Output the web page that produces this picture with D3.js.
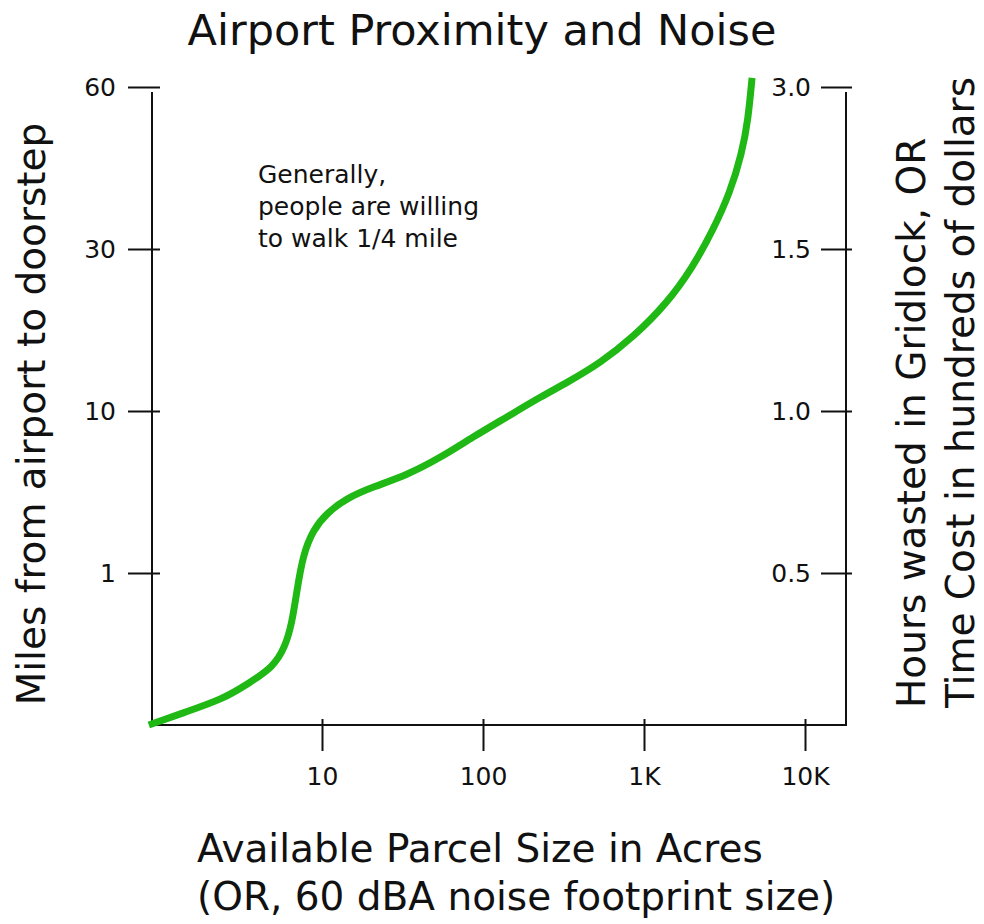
<html>
<head>
    <style>
        body { margin: 0; background: #fff; }
        text { font-family: "DejaVu Sans", sans-serif; fill: #111; }
        .axis line, .axis-line { stroke: #111; stroke-width: 2px; }
    </style>
</head>
<body>
    <script src="https://d3js.org/d3.v7.min.js"></script>
    <script>
        var width = 984,
            height = 924;

        // curve: parcel size in acres vs miles from airport
        var acres = [0.84, 1.37, 2.43, 3.57, 4.96, 5.89, 6.51, 7.0, 7.62, 8.8, 10.7, 14.3, 20.7, 33.7, 54,
            86.7, 141, 226, 332, 533, 855, 1390, 2015, 2683, 3420, 4060, 4430, 4690];
        var miles = [0, 0.08, 0.17, 0.28, 0.38, 0.51, 0.67, 0.89, 2.0, 3.39, 4.33, 5.17, 5.78, 6.44, 7.39,
            8.56, 9.67, 11.7, 13.5, 15.9, 19.1, 23.3, 27.8, 33.5, 40.4, 47.8, 53.9, 61.7];

        var xTicks = [10, 100, 1000, 10000];
        var xTickLabels = ["10", "100", "1K", "10K"];
        var leftTicks = [1, 10, 30, 60];
        var rightTicks = [0.5, 1.0, 1.5, 3.0];

        var svg = d3.select("body")
            .append("svg")
            .attr("width", width)
            .attr("height", height);

        var x = d3.scaleLog().domain([1, 10000]).range([161, 805]);
        // the axes are evenly spaced per labelled value, not linear
        var yLeft = d3.scaleLinear().domain([0, 1, 10, 30, 60]).range([725, 573, 411, 249, 87]);
        var yRight = d3.scaleLinear().domain([0, 0.5, 1.0, 1.5, 3.0]).range([725, 573, 411, 249, 87]);

        // axis lines
        svg.append("line").attr("class", "axis-line")
            .attr("x1", 152).attr("x2", 152).attr("y1", 92).attr("y2", 726);
        svg.append("line").attr("class", "axis-line")
            .attr("x1", 846).attr("x2", 846).attr("y1", 92).attr("y2", 726);
        svg.append("line").attr("class", "axis-line")
            .attr("x1", 151).attr("x2", 847).attr("y1", 725).attr("y2", 725);

        var xAxis = svg.append("g")
            .attr("class", "axis")
            .attr("transform", "translate(0,725)")
            .call(d3.axisBottom(x).tickValues(xTicks).tickSize(26).tickPadding(16)
                .tickFormat(function (d, i) { return xTickLabels[i]; }));
        xAxis.select(".domain").remove();
        xAxis.selectAll(".tick line").attr("y1", -6);
        xAxis.selectAll(".tick text").style("font-size", "25px").attr("font-family", null);

        var leftAxis = svg.append("g")
            .attr("class", "axis")
            .attr("transform", "translate(152,0)")
            .call(d3.axisLeft(yLeft).tickValues(leftTicks).tickSize(24).tickPadding(12)
                .tickFormat(d3.format("d")));
        leftAxis.select(".domain").remove();
        leftAxis.selectAll(".tick line").attr("x1", 8);
        leftAxis.selectAll(".tick text").style("font-size", "25px").attr("font-family", null);

        var rightAxis = svg.append("g")
            .attr("class", "axis")
            .attr("transform", "translate(846,0)")
            .call(d3.axisLeft(yRight).tickValues(rightTicks).tickSize(25).tickPadding(10)
                .tickFormat(d3.format(".1f")));
        rightAxis.select(".domain").remove();
        rightAxis.selectAll(".tick line").attr("x1", 6);
        rightAxis.selectAll(".tick text").style("font-size", "25px").attr("font-family", null);

        // the green curve
        var points = acres.map(function (a, i) { return [a, miles[i]]; });
        var line = d3.line()
            .x(function (d) { return x(d[0]); })
            .y(function (d) { return yLeft(d[1]); })
            .curve(d3.curveBasis);

        svg.append("path")
            .datum(points)
            .attr("d", line)
            .attr("fill", "none")
            .attr("stroke", "#1fb814")
            .attr("stroke-width", 7);

        // title
        svg.append("text")
            .attr("x", 482)
            .attr("y", 45)
            .attr("text-anchor", "middle")
            .style("font-size", "43px")
            .text("Airport Proximity and Noise");

        // note
        var note = svg.append("text")
            .attr("x", 258)
            .attr("y", 183)
            .style("font-size", "25px");
        ["Generally,", "people are willing", "to walk 1/4 mile"].forEach(function (s, i) {
            note.append("tspan").attr("x", 258).attr("dy", i ? 32 : 0).text(s);
        });

        // axis titles
        svg.append("text")
            .attr("transform", "translate(45,414) rotate(-90)")
            .attr("text-anchor", "middle")
            .style("font-size", "39px")
            .text("Miles from airport to doorstep");

        svg.append("text")
            .attr("transform", "translate(925,708) rotate(-90)")
            .style("font-size", "39px")
            .text("Hours wasted in Gridlock, OR");
        svg.append("text")
            .attr("transform", "translate(974,708) rotate(-90)")
            .style("font-size", "39px")
            .text("Time Cost in hundreds of dollars");

        svg.append("text")
            .attr("x", 197)
            .attr("y", 862)
            .style("font-size", "39px")
            .text("Available Parcel Size in Acres");
        svg.append("text")
            .attr("x", 197)
            .attr("y", 910)
            .style("font-size", "39px")
            .text("(OR, 60 dBA noise footprint size)");
    </script>
</body>
</html>
